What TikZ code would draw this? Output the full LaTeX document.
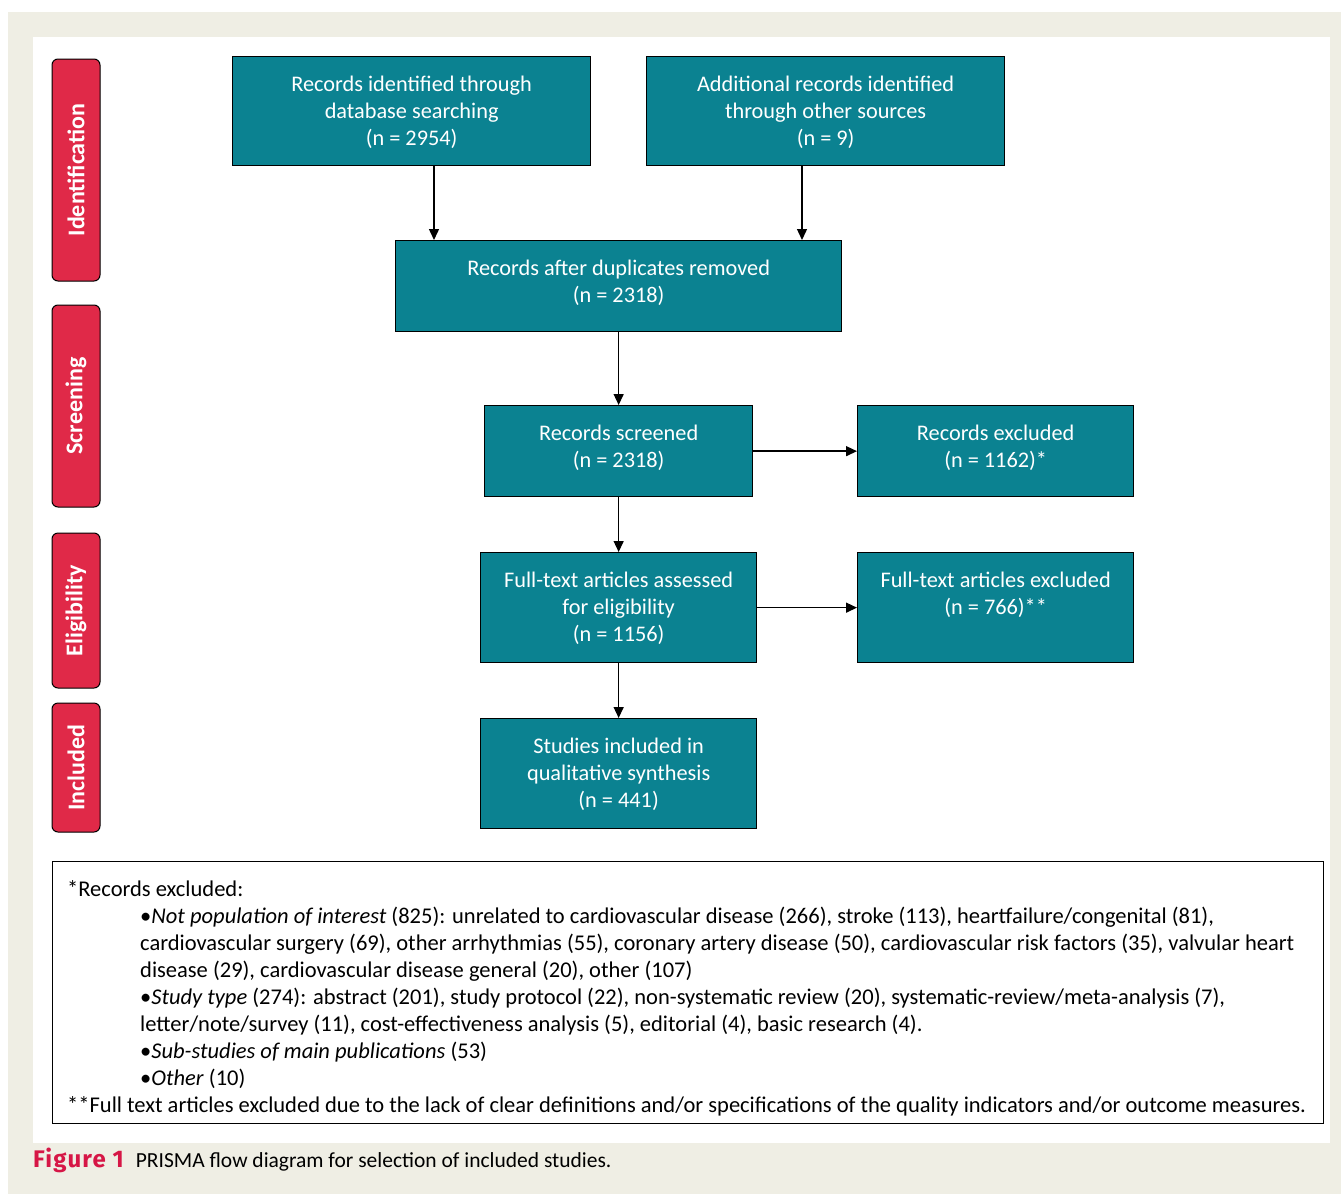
\documentclass[tikz,border=0pt]{standalone}
\usepackage{fontspec}
\setmainfont{Carlito}
\newfontfamily\capfont[LetterSpace=5]{Fira Sans}
\usetikzlibrary{arrows.meta,calc}
\definecolor{tealbox}{RGB}{11,130,145}
\definecolor{lblred}{RGB}{224,41,72}
\definecolor{beigebg}{RGB}{239,238,228}
\definecolor{capred}{RGB}{214,22,70}
\newcommand{\bxtext}[3]{\parbox[c][#2][t]{#1}{\centering\rule{0pt}{35pt}#3}}
\begin{document}
\begin{tikzpicture}[x=1pt,y=-1pt,
  flowbox/.style={draw=black, line width=1.3pt, fill=tealbox, text=white, inner sep=0pt,
    anchor=north west, font=\fontsize{22.3}{27}\selectfont},
  phase/.style={draw=black, line width=1pt, fill=lblred, rounded corners=6pt, text=white,
    font=\fontsize{24}{28}\selectfont\bfseries, rotate=90, inner sep=0pt, minimum height=48pt},
  arr/.style={-{Triangle[length=11pt,width=10pt]}, line width=1.4pt},
  notefont/.style={font=\fontsize{22.5}{27}\selectfont, inner sep=0pt, anchor=base west}
]
\useasboundingbox (0,0) rectangle (1341,1194);
\fill[white] (0,0) rectangle (1341,1194);
\fill[beigebg] (8,12) rectangle (1341,1194);
\fill[white] (33,37) rectangle (1330,1143);

% phase labels
\node[phase, minimum width=222pt] (pid) at (76,170) {Identification};
\node[phase, minimum width=202pt] (psc) at (76,406) {Screening};
\node[phase, minimum width=155pt] (pel) at (76,610.5) {Eligibility};
\node[phase, minimum width=129pt] (pin) at (76,767.5) {Included};

% flow boxes
\node[flowbox] (b1) at (232,56) {\bxtext{358pt}{109pt}{Records identified through\\database searching\\(n = 2954)}};
\node[flowbox] (b2) at (646,56) {\bxtext{358pt}{109pt}{Additional records identified\\through other sources\\(n = 9)}};
\node[flowbox] (b3) at (395,240) {\bxtext{446pt}{91pt}{Records after duplicates removed\\(n = 2318)}};
\node[flowbox] (b4) at (484,405) {\bxtext{268pt}{91pt}{Records screened\\(n = 2318)}};
\node[flowbox] (b5) at (857,405) {\bxtext{276pt}{91pt}{Records excluded\\(n = 1162)*}};
\node[flowbox] (b6) at (480,552) {\bxtext{276pt}{110pt}{Full-text articles assessed\\for eligibility\\(n = 1156)}};
\node[flowbox] (b7) at (857,552) {\bxtext{276pt}{110pt}{Full-text articles excluded\\(n = 766)**}};
\node[flowbox] (b8) at (480,718) {\bxtext{276pt}{110pt}{Studies included in\\qualitative synthesis\\(n = 441)}};

% arrows
\coordinate (ax1) at (434,0);
\coordinate (ax2) at (802,0);
\draw[arr] (b1.south -| ax1) -- (b3.north -| ax1);
\draw[arr] (b2.south -| ax2) -- (b3.north -| ax2);
\draw[arr] (b3.south) -- (b4.north);
\draw[arr] (b4.east) -- (b5.west);
\draw[arr] (b4.south) -- (b6.north);
\draw[arr] (b6.east) -- (b7.west);
\draw[arr] (b6.south) -- (b8.north);

% notes
\node[draw=black, line width=1.3pt, minimum width=1271pt, minimum height=262pt, inner sep=0pt, anchor=north west] (notebox) at (52,861) {};
\node[notefont] (notes) at (67,896) {\parbox[t]{1300pt}{\raggedright
*Records excluded:\\
\hspace*{73pt}•\textit{Not population of interest} (825): unrelated to cardiovascular disease (266), stroke (113), heartfailure/congenital (81),\\
\hspace*{73pt}cardiovascular surgery (69), other arrhythmias (55), coronary artery disease (50), cardiovascular risk factors (35), valvular heart\\
\hspace*{73pt}disease (29), cardiovascular disease general (20), other (107)\\
\hspace*{73pt}•\textit{Study type} (274): abstract (201), study protocol (22), non-systematic review (20), systematic-review/meta-analysis (7),\\
\hspace*{73pt}letter/note/survey (11), cost-effectiveness analysis (5), editorial (4), basic research (4).\\
\hspace*{73pt}•\textit{Sub-studies of main publications} (53)\\
\hspace*{73pt}•\textit{Other} (10)\\\relax
**Full text articles excluded due to the lack of clear definitions and/or specifications of the quality indicators and/or outcome measures.}};

% caption
\node[inner sep=0pt, anchor=base west, font=\fontsize{21.5}{25}\selectfont] (cap) at (33,1167)
  {{\capfont\fontsize{24}{26}\selectfont\bfseries\color{capred}Figure 1}\hspace{12pt}PRISMA flow diagram for selection of included studies.};
\end{tikzpicture}
\end{document}
